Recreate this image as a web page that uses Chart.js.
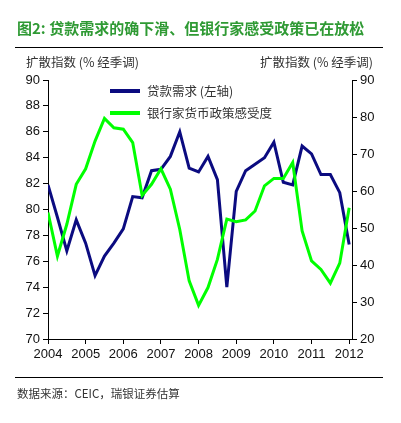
<!DOCTYPE html>
<html><head><meta charset="utf-8">
<script src="https://cdn.jsdelivr.net/npm/chart.js@4.4.0/dist/chart.umd.min.js"></script>
<style>
html,body{margin:0;padding:0;background:#fff;width:401px;height:423px;overflow:hidden;}
#wrap{position:relative;width:401px;height:423px;}
canvas{position:absolute;left:0;top:0;}
.t{position:absolute;white-space:nowrap;font-family:"Noto Sans CJK SC",sans-serif;line-height:1;}
.hl{position:absolute;left:15px;width:368px;height:1px;background:#000;}
.lg{position:absolute;left:110px;width:30px;height:4px;}
</style></head><body>
<div id="wrap">
<canvas id="c" width="401" height="423"></canvas>
<div class="t" style="left:17px;top:19.5px;font-size:15px;color:#2f9a34;font-weight:bold;">图2: 贷款需求的确下滑、但银行家感受政策已在放松</div>
<div class="hl" style="top:47px"></div>
<div class="t" style="left:26px;top:56px;font-size:12.5px;color:#333;">扩散指数 (% 经季调)</div>
<div class="t" style="right:28px;top:56px;font-size:12.5px;color:#333;">扩散指数 (% 经季调)</div>
<div class="lg" style="top:89px;background:#0b0b80"></div>
<div class="t" style="left:147px;top:84.5px;font-size:12.5px;color:#333;">贷款需求 (左轴)</div>
<div class="lg" style="top:111px;background:#00ff00"></div>
<div class="t" style="left:147px;top:107px;font-size:12.5px;color:#333;">银行家货币政策感受度</div>
<div class="hl" style="top:377px"></div>
<div class="t" style="left:17px;top:388px;font-size:11.5px;color:#333;">数据来源：CEIC，瑞银证券估算</div>
</div>
<script>
// Quarterly, 2004Q1 .. 2012Q1
const loanDemand = [81.9, 79.4, 76.8, 79.2, 77.4, 74.9, 76.4, 77.4, 78.5, 81.0, 80.9,
  83.0, 83.1, 84.1, 86.0, 83.2, 82.9, 84.1, 82.3, 74.0, 81.4, 83.0, 83.5, 84.0, 85.2,
  82.1, 81.9, 84.9, 84.3, 82.7, 82.7, 81.3, 77.3];
const bankerSentiment = [54.2, 42.4, 51.0, 61.8, 66.0, 73.5, 79.6, 77.1, 76.7, 73.1, 58.8,
  61.8, 66.0, 60.5, 49.6, 35.7, 29.1, 33.9, 41.5, 52.4, 51.7, 52.2, 54.6, 61.4, 63.4,
  63.4, 67.7, 49.2, 41.1, 38.8, 35.1, 40.5, 55.5];
const yearLabels = ['2004','2005','2006','2007','2008','2009','2010','2011','2012'];
const leftTicks = [70,72,74,76,78,80,82,84,86,88,90];
const rightTicks = [20,30,40,50,60,70,80,90];

const toPts = arr => arr.map((v, i) => ({x: i, y: v}));
const tickFont = {family: '"Liberation Sans", Arial, sans-serif', size: 13};
const tickColor = '#111';
const axisCommon = {
  grid: {drawOnChartArea: false, drawTicks: true, tickLength: 5, color: '#000'},
  border: {display: true, color: '#000', width: 1}
};

new Chart(document.getElementById('c'), {
  type: 'line',
  data: {
    datasets: [
      {label: '贷款需求 (左轴)', data: toPts(loanDemand), yAxisID: 'yL',
        borderColor: '#0b0b80', borderWidth: 3, pointRadius: 0, tension: 0, order: 1},
      {label: '银行家货币政策感受度', data: toPts(bankerSentiment), yAxisID: 'yR',
        borderColor: '#00ff00', borderWidth: 3, pointRadius: 0, tension: 0, order: 0}
    ]
  },
  options: {
    responsive: false, animation: false, devicePixelRatio: 1,
    layout: {padding: {top: 80, left: 0, right: 0, bottom: 0}},
    plugins: {legend: {display: false}, tooltip: {enabled: false}},
    scales: {
      x: Object.assign({}, axisCommon, {
        type: 'linear', min: 0, max: 32.3,
        afterBuildTicks: s => { s.ticks = yearLabels.map((_, i) => ({value: i * 4})); },
        afterFit: s => { s.height = 84; },
        ticks: {font: tickFont, color: tickColor, padding: 3, maxRotation: 0, autoSkip: false,
          callback: (v) => yearLabels[Math.round(v / 4)]}
      }),
      yL: Object.assign({}, axisCommon, {
        position: 'left', min: 70, max: 90,
        afterBuildTicks: s => { s.ticks = leftTicks.map(v => ({value: v})); },
        afterFit: s => { s.width = 48; },
        ticks: {font: tickFont, color: tickColor, padding: 3}
      }),
      yR: Object.assign({}, axisCommon, {
        position: 'right', min: 20, max: 90,
        afterBuildTicks: s => { s.ticks = rightTicks.map(v => ({value: v})); },
        afterFit: s => { s.width = 49; },
        ticks: {font: tickFont, color: tickColor, padding: 3}
      })
    }
  }
});
</script>
</body></html>
